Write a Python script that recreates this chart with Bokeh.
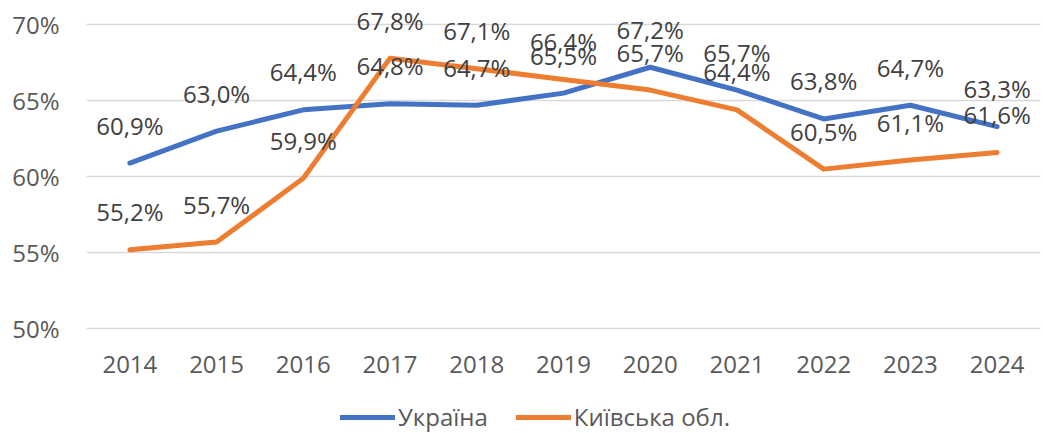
from bokeh.plotting import figure
from bokeh.models import FactorRange, Range1d, FixedTicker, Legend, LegendItem, ColumnDataSource
from bokeh.core.properties import value
from bokeh.embed import file_html
from bokeh.resources import INLINE

years = ["2014", "2015", "2016", "2017", "2018", "2019", "2020", "2021", "2022", "2023", "2024"]
ukraine = [60.9, 63.0, 64.4, 64.8, 64.7, 65.5, 67.2, 65.7, 63.8, 64.7, 63.3]
kyiv_obl = [55.2, 55.7, 59.9, 67.8, 67.1, 66.4, 65.7, 64.4, 60.5, 61.1, 61.6]
y_ticks = [50, 55, 60, 65, 70]
series_names = ["Україна", "Київська обл."]
colors = ["#4472C4", "#ED7D31"]

FONT = "Open Sans"

def fmt(v):
    return f"{v:.1f}".replace(".", ",") + "%"

p = figure(frame_width=954, frame_height=424, x_range=FactorRange(*years, range_padding=0),
           y_range=Range1d(43.11, 71), output_backend="svg", toolbar_location=None,
           min_border_left=86, min_border_right=3, min_border_top=9, min_border_bottom=0)
p.outline_line_color = None
p.background_fill_color = "white"

p.xgrid.grid_line_color = None
p.ygrid.grid_line_color = "#D9D9D9"
p.ygrid.grid_line_width = 1.3

p.yaxis.ticker = FixedTicker(ticks=y_ticks)
p.yaxis.major_label_overrides = {t: f"{t}%" for t in y_ticks}
for ax in (p.xaxis, p.yaxis):
    ax.axis_line_color = None
    ax.major_tick_line_color = None
    ax.minor_tick_line_color = None
    ax.major_tick_out = 0
    ax.major_tick_in = 0
    ax.major_label_text_font = FONT
    ax.major_label_text_font_size = "24px"
    ax.major_label_text_color = "#595959"
p.yaxis.major_label_standoff = 27
p.xaxis.major_label_standoff = 26
p.xaxis.fixed_location = 49.9

items = []
for name, vals, col in zip(series_names, [ukraine, kyiv_obl], colors):
    src = ColumnDataSource(dict(x=years, y=vals))
    r = p.line("x", "y", source=src, line_color=col, line_width=5,
               line_cap="round", line_join="round")
    items.append(LegendItem(label=name, renderers=[r]))

for vals in [ukraine, kyiv_obl]:
    src = ColumnDataSource(dict(x=years, y=vals, t=[fmt(v) for v in vals]))
    p.text("x", "y", text="t", source=src, text_align="center", text_baseline="alphabetic",
           y_offset=-38, text_font=value(FONT), text_font_size="24px", text_color="#404040")

legend = Legend(items=items, orientation="horizontal", location=(254, 0))
legend.label_text_font = FONT
legend.label_text_font_size = "24px"
legend.label_text_color = "#595959"
legend.glyph_width = 55
legend.glyph_height = 20
legend.label_standoff = 3
legend.spacing = 28
legend.border_line_color = None
legend.background_fill_alpha = 0
legend.padding = 0
legend.margin = 0
p.add_layout(legend, "center")

open("out.html", "w").write(file_html(p, INLINE))
